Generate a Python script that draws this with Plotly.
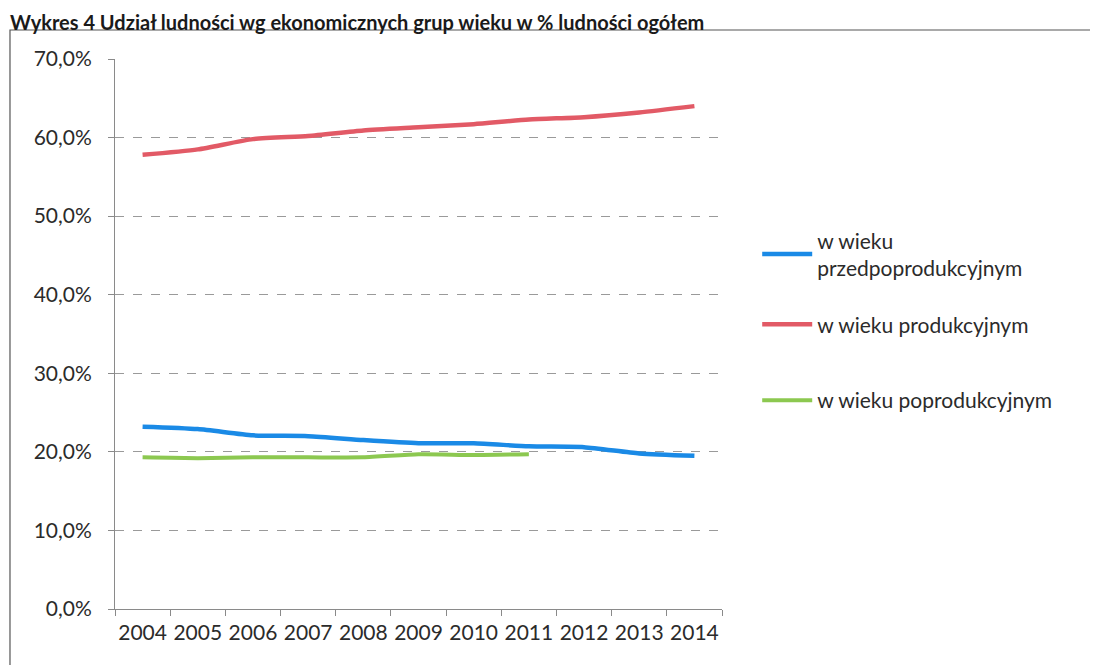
import plotly.graph_objects as go

years = ["2004", "2005", "2006", "2007", "2008", "2009", "2010", "2011", "2012", "2013", "2014"]
pre = [23.2, 22.9, 22.1, 22.0, 21.5, 21.1, 21.1, 20.7, 20.6, 19.8, 19.5]
prod = [57.8, 58.5, 59.8, 60.2, 60.9, 61.3, 61.7, 62.3, 62.6, 63.2, 64.0]
post_years = ["2004", "2005", "2006", "2007", "2008", "2009", "2010", "2011"]
post = [19.3, 19.2, 19.3, 19.3, 19.3, 19.7, 19.6, 19.7]

yticks = [0, 10, 20, 30, 40, 50, 60, 70]
yticktext = ["0,0%", "10,0%", "20,0%", "30,0%", "40,0%", "50,0%", "60,0%", "70,0%"]

FONT = "Lato, 'Open Sans', sans-serif"
TXT = "#2b2b2b"

fig = go.Figure()
fig.add_trace(go.Scatter(x=years, y=pre, mode="lines", name="w wieku<br>przedpoprodukcyjnym",
                         legend="legend",
                         line=dict(color="#1a8ae6", width=4.5, shape="spline", smoothing=0.6)))
fig.add_trace(go.Scatter(x=years, y=prod, mode="lines", name="w wieku produkcyjnym",
                         legend="legend2",
                         line=dict(color="#e25a66", width=4.5, shape="spline", smoothing=0.6)))
fig.add_trace(go.Scatter(x=post_years, y=post, mode="lines", name="w wieku poprodukcyjnym",
                         legend="legend3",
                         line=dict(color="#8cc850", width=4, shape="spline", smoothing=0.6)))

def leg(y):
    return dict(x=1.058, y=y, xanchor="left", yanchor="middle",
                font=dict(family=FONT, size=21, color=TXT),
                itemwidth=50, bgcolor="rgba(0,0,0,0)")

fig.update_layout(
    width=1098, height=665,
    margin=dict(l=107, r=384, t=51, b=64),
    paper_bgcolor="white", plot_bgcolor="white",
    font=dict(family=FONT, size=21, color=TXT),
    showlegend=True,
    legend=leg(0.645),
    legend2=leg(0.517),
    legend3=leg(0.379),
    xaxis=dict(type="category", range=[-0.5, 10.5], showgrid=False,
               showline=True, linecolor="#8a8a8a", linewidth=1,
               ticks="outside", tickson="boundaries", ticklen=6, tickcolor="#8a8a8a",
               ticklabelstandoff=5, tickangle=0, automargin=False,
               tickfont=dict(family=FONT, size=21, color=TXT)),
    yaxis=dict(range=[0, 70], tickvals=yticks, ticktext=yticktext,
               showgrid=True, gridcolor="#9a9a9a", gridwidth=1, griddash="dash",
               showline=True, linecolor="#8a8a8a", linewidth=1,
               ticks="outside", ticklen=6, tickcolor="#8a8a8a", zeroline=False,
               ticklabelstandoff=12, automargin=False,
               tickfont=dict(family=FONT, size=21, color=TXT)),
    shapes=[dict(type="rect", xref="paper", yref="paper",
                 x0=-0.173, x1=1.616, y0=-0.3, y1=1.0527,
                 line=dict(color="#555555", width=1.2), layer="below")],
    annotations=[dict(text="<b>Wykres 4 Udział ludności wg ekonomicznych grup wieku w % ludności ogółem</b>",
                      xref="paper", yref="paper", x=-0.176, y=1.068, xanchor="left", yanchor="middle",
                      showarrow=False, font=dict(family=FONT, size=20, color="#1a1a1a"))],
)

fig.write_html("out.html")
